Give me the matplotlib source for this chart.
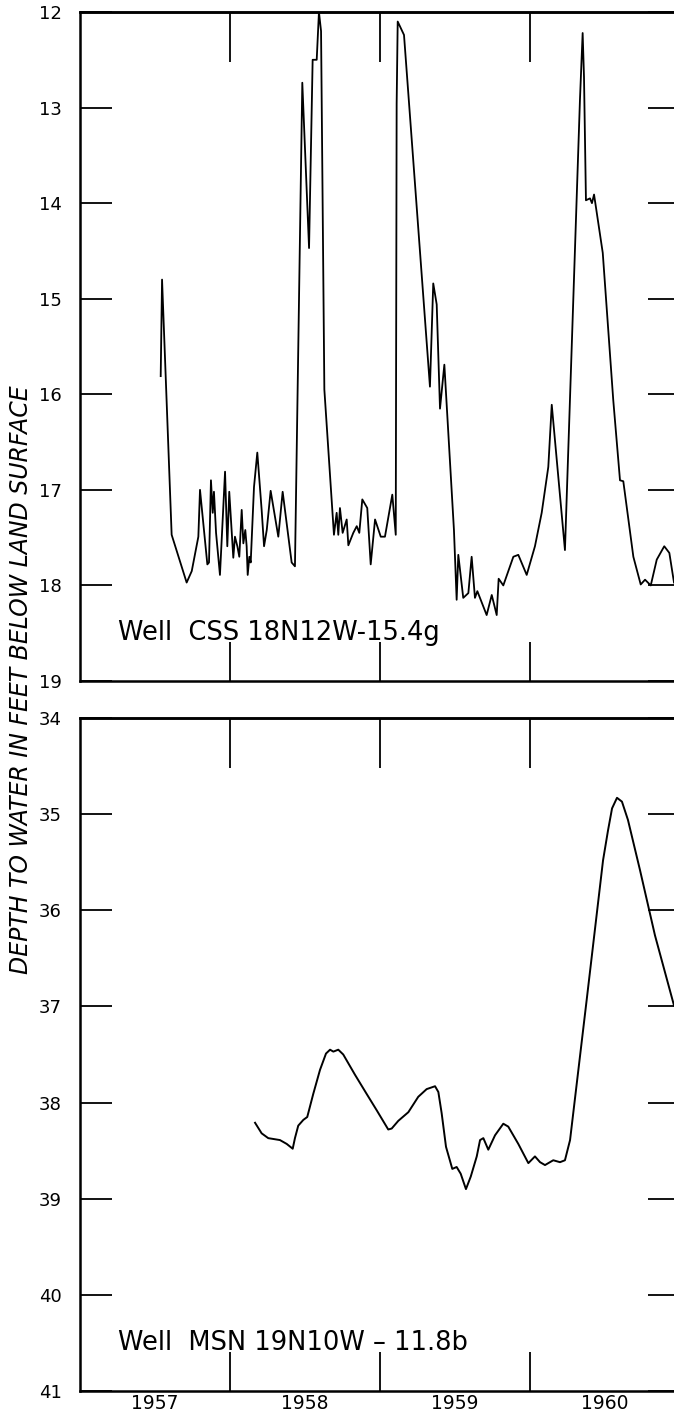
import matplotlib
matplotlib.use("Agg")
import matplotlib.pyplot as plt

# -----------------------------
# Data read off the hydrographs
# -----------------------------
css_year = [
    1957.538, 1957.547, 1957.611, 1957.711, 1957.745, 1957.789, 1957.800,
    1957.849, 1957.860, 1957.873, 1957.885, 1957.893, 1957.907, 1957.933,
    1957.967, 1957.982, 1957.995, 1958.022, 1958.033, 1958.049, 1958.062,
    1958.078, 1958.089, 1958.102, 1958.111, 1958.118, 1958.129, 1958.138,
    1958.160, 1958.182, 1958.211, 1958.227, 1958.245, 1958.271, 1958.322,
    1958.351, 1958.411, 1958.433, 1958.482, 1958.527, 1958.551, 1958.578,
    1958.593, 1958.607, 1958.629, 1958.693, 1958.711, 1958.722, 1958.733,
    1958.751, 1958.778, 1958.789, 1958.822, 1958.845, 1958.862, 1958.882,
    1958.915, 1958.938, 1958.967, 1959.005, 1959.033, 1959.082, 1959.105,
    1959.111, 1959.118, 1959.160, 1959.333, 1959.355, 1959.378, 1959.400,
    1959.429, 1959.493, 1959.511, 1959.522, 1959.555, 1959.589, 1959.611,
    1959.633, 1959.649, 1959.711, 1959.745, 1959.778, 1959.791, 1959.822,
    1959.889, 1959.922, 1959.978, 1960.033, 1960.078, 1960.122, 1960.145,
    1960.233, 1960.333, 1960.351, 1960.360, 1960.373, 1960.400, 1960.413,
    1960.427, 1960.485, 1960.555, 1960.600, 1960.622, 1960.689, 1960.738,
    1960.767, 1960.805, 1960.845, 1960.895, 1960.929, 1960.960,
]
css_depth = [
    15.81, 14.80, 17.47, 17.97, 17.85, 17.49, 17.00,
    17.78, 17.76, 16.90, 17.24, 17.02, 17.45, 17.89,
    16.81, 17.59, 17.02, 17.71, 17.49, 17.59, 17.70,
    17.21, 17.56, 17.42, 17.59, 17.89, 17.70, 17.76,
    16.97, 16.61, 17.21, 17.59, 17.42, 17.01, 17.49,
    17.02, 17.76, 17.80, 12.74, 14.47, 12.50, 12.50,
    12.00, 12.20, 15.95, 17.47, 17.24, 17.47, 17.19,
    17.45, 17.31, 17.58, 17.45, 17.38, 17.45, 17.10,
    17.19, 17.78, 17.31, 17.49, 17.49, 17.05, 17.47,
    12.96, 12.10, 12.24, 15.92, 14.84, 15.06, 16.15,
    15.69, 17.42, 18.15, 17.68, 18.13, 18.08, 17.70,
    18.13, 18.06, 18.31, 18.10, 18.31, 17.93, 18.00,
    17.70, 17.68, 17.89, 17.59, 17.24, 16.76, 16.11,
    17.63, 12.92, 12.22, 12.68, 13.97, 13.95, 14.00,
    13.91, 14.52, 16.06, 16.90, 16.91, 17.70, 17.99,
    17.94, 18.00, 17.73, 17.59, 17.66, 17.97,
]

msn_year = [
    1958.167, 1958.211, 1958.255, 1958.333, 1958.378, 1958.418, 1958.433,
    1958.455, 1958.489, 1958.515, 1958.555, 1958.600, 1958.640, 1958.667,
    1958.689, 1958.722, 1958.755, 1958.833, 1958.911, 1958.978, 1959.055,
    1959.078, 1959.122, 1959.189, 1959.255, 1959.311, 1959.367, 1959.389,
    1959.411, 1959.440, 1959.482, 1959.511, 1959.538, 1959.573, 1959.605,
    1959.645, 1959.667, 1959.689, 1959.722, 1959.767, 1959.822, 1959.855,
    1959.922, 1959.989, 1960.033, 1960.067, 1960.100, 1960.155, 1960.200,
    1960.233, 1960.267, 1960.378, 1960.487, 1960.520, 1960.547, 1960.580,
    1960.613, 1960.653, 1960.733, 1960.833, 1960.960,
]
msn_depth = [
    38.21, 38.32, 38.37, 38.39, 38.43, 38.48, 38.37,
    38.24, 38.18, 38.15, 37.91, 37.66, 37.49, 37.45,
    37.47, 37.45, 37.50, 37.71, 37.91, 38.08, 38.28,
    38.27, 38.19, 38.10, 37.94, 37.86, 37.83, 37.89,
    38.11, 38.46, 38.69, 38.67, 38.74, 38.90, 38.77,
    38.56, 38.39, 38.37, 38.49, 38.34, 38.22, 38.25,
    38.43, 38.63, 38.56, 38.62, 38.65, 38.60, 38.62,
    38.60, 38.39, 36.93, 35.48, 35.17, 34.94, 34.83,
    34.87, 35.06, 35.58, 36.26, 36.99,
]

year_ticks = [1958, 1959, 1960]
year_labels = ["1957", "1958", "1959", "1960"]
year_label_pos = [1957.5, 1958.5, 1959.5, 1960.5]
css_ticks = list(range(12, 20))
msn_ticks = list(range(34, 42))

# -----------------------------
# Figure
# -----------------------------
W, H = 674, 1416
fig = plt.figure(figsize=(W / 100, H / 100), dpi=100)
plt.rcParams["font.family"] = ["DejaVu Sans"]

left = 80 / W
width = 600 / W   # axes run to 1961, a little past the right edge of the page

ax1 = fig.add_axes([left, 1 - 681 / H, width, 669 / H])
ax2 = fig.add_axes([left, 1 - 1391 / H, width, 673 / H])


def style(ax, ymin, ymax, yticks, well):
    ax.set_xlim(1957, 1961)
    ax.set_ylim(ymax, ymin)
    for s in ax.spines.values():
        s.set_linewidth(1.8)

    ax.set_yticks(yticks)
    ax.set_yticklabels([str(t) for t in yticks])
    ax.tick_params(axis="y", direction="in", length=23, width=1.3,
                   left=True, right=True, labelsize=13, pad=13)

    ax.set_xticks(year_ticks)
    ax.set_xticklabels([])
    ax.tick_params(axis="x", which="major", direction="in", length=28,
                   width=1.3, bottom=True, top=False)

    top = ax.secondary_xaxis("top")
    top.set_xticks(year_ticks)
    top.set_xticklabels([])
    top.tick_params(direction="in", length=36, width=1.3)
    top.spines["top"].set_linewidth(1.8)

    ax.text(1957.25, ymax - 0.5, well, fontsize=18.5, va="center", ha="left")


style(ax1, 12, 19, css_ticks, "Well  CSS 18N12W-15.4g")
style(ax2, 34, 41, msn_ticks, "Well  MSN 19N10W \u2013 11.8b")

ax1.plot(css_year, css_depth, color="black", linewidth=1.3)
ax2.plot(msn_year, msn_depth, color="black", linewidth=1.4,
         solid_joinstyle="round")

# year labels centred in each year
ax2.set_xticks(year_label_pos, minor=True)
ax2.set_xticklabels(year_labels, minor=True)
ax2.tick_params(axis="x", which="minor", length=0, labelsize=13.5, pad=2)

fig.text(21 / W, 1 - 680 / H, "DEPTH TO WATER IN FEET BELOW LAND SURFACE",
         rotation=90, ha="center", va="center", fontsize=17, style="italic")

fig.savefig("out.png", dpi=100)
